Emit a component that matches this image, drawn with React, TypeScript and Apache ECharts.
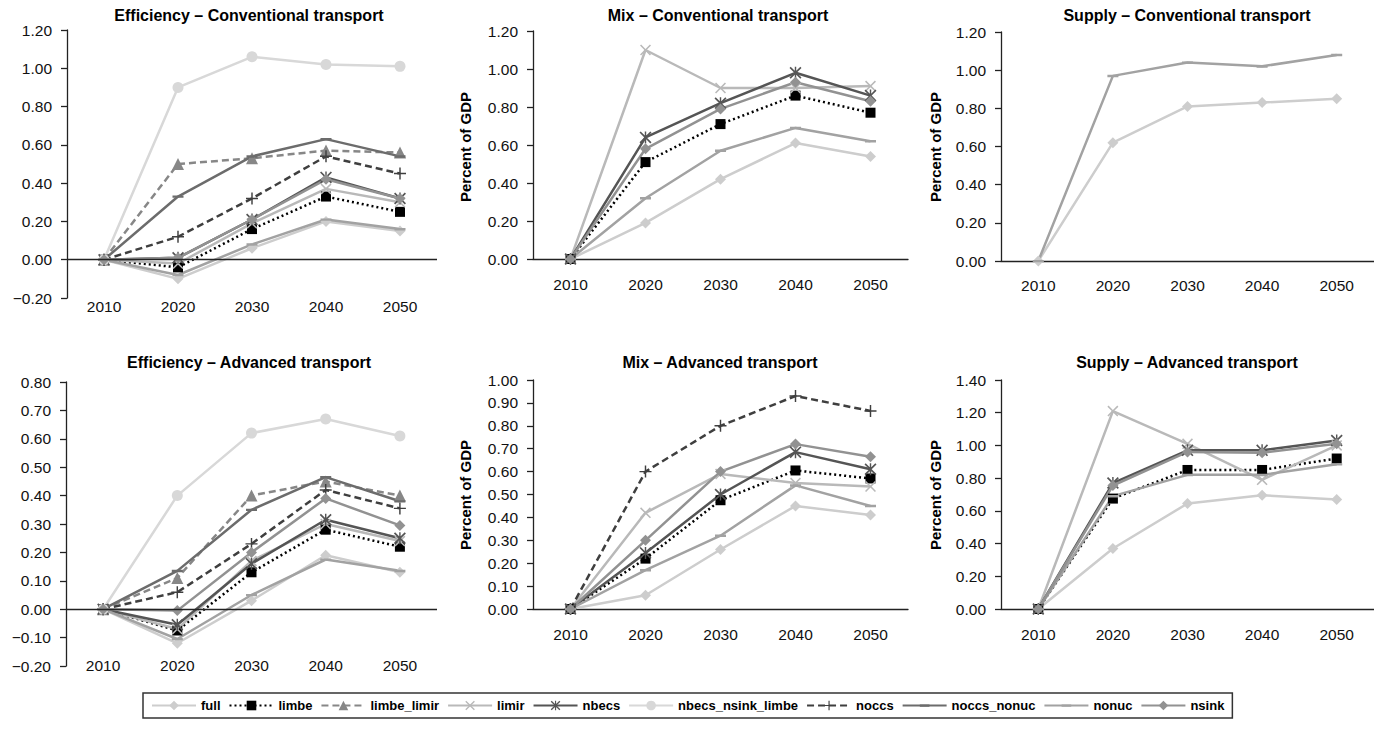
import React, { useEffect, useRef } from 'react';
import * as echarts from 'echarts';

const years = ['2010', '2020', '2030', '2040', '2050'];
const scenarios = ['full', 'limbe', 'limbe_limir', 'limir', 'nbecs', 'nbecs_nsink_limbe', 'noccs', 'noccs_nonuc', 'nonuc', 'nsink'];

const effConv: Record<string, number[]> = {
  full: [0, -0.1, 0.06, 0.2, 0.15],
  limbe: [0, -0.04, 0.16, 0.33, 0.25],
  limbe_limir: [0, 0.5, 0.53, 0.57, 0.56],
  limir: [0, -0.02, 0.19, 0.37, 0.3],
  nbecs: [0, 0.01, 0.21, 0.43, 0.32],
  nbecs_nsink_limbe: [0, 0.9, 1.06, 1.02, 1.01],
  noccs: [0, 0.12, 0.32, 0.54, 0.45],
  noccs_nonuc: [0, 0.33, 0.54, 0.63, 0.54],
  nonuc: [0, -0.08, 0.08, 0.21, 0.16],
  nsink: [0, 0.01, 0.21, 0.42, 0.32],
};

const mixConv: Record<string, number[]> = {
  full: [0, 0.19, 0.42, 0.61, 0.54],
  limbe: [0, 0.51, 0.71, 0.86, 0.77],
  limir: [0, 1.1, 0.9, 0.9, 0.91],
  nbecs: [0, 0.64, 0.82, 0.98, 0.86],
  nonuc: [0, 0.32, 0.57, 0.69, 0.62],
  nsink: [0, 0.58, 0.79, 0.93, 0.83],
};

const supplyConv: Record<string, number[]> = {
  full: [0, 0.62, 0.81, 0.83, 0.85],
  nonuc: [0, 0.97, 1.04, 1.02, 1.08],
};

const effAdv: Record<string, number[]> = {
  full: [0, -0.12, 0.03, 0.19, 0.13],
  limbe: [0, -0.075, 0.13, 0.28, 0.22],
  limbe_limir: [0, 0.11, 0.4, 0.45, 0.4],
  limir: [0, -0.07, 0.17, 0.3, 0.24],
  nbecs: [0, -0.055, 0.16, 0.315, 0.25],
  nbecs_nsink_limbe: [0, 0.4, 0.62, 0.67, 0.61],
  noccs: [0, 0.06, 0.23, 0.42, 0.355],
  noccs_nonuc: [0, 0.135, 0.35, 0.465, 0.38],
  nonuc: [0, -0.105, 0.05, 0.175, 0.135],
  nsink: [0, -0.005, 0.2, 0.39, 0.295],
};

const mixAdv: Record<string, number[]> = {
  full: [0, 0.06, 0.26, 0.45, 0.41],
  limbe: [0, 0.22, 0.475, 0.605, 0.57],
  limir: [0, 0.42, 0.59, 0.55, 0.535],
  nbecs: [0, 0.245, 0.5, 0.685, 0.61],
  noccs: [0, 0.6, 0.8, 0.93, 0.865],
  nonuc: [0, 0.17, 0.32, 0.54, 0.45],
  nsink: [0, 0.3, 0.6, 0.72, 0.665],
};

const supplyAdv: Record<string, number[]> = {
  full: [0, 0.37, 0.645, 0.695, 0.67],
  limbe: [0, 0.675, 0.85, 0.85, 0.92],
  limir: [0, 1.21, 1.01, 0.79, 1.0],
  nbecs: [0, 0.77, 0.97, 0.97, 1.03],
  nonuc: [0, 0.69, 0.82, 0.82, 0.885],
  nsink: [0, 0.755, 0.96, 0.955, 1.01],
};

const FONT = '"Liberation Sans", Arial, Helvetica, sans-serif';

const X_PATH = 'path://M0,1 L1,0 L5,4 L9,0 L10,1 L6,5 L10,9 L9,10 L5,6 L1,10 L0,9 L4,5 Z';
const AST_PATH = 'path://M0,1 L1,0 L5,4 L9,0 L10,1 L6,5 L10,9 L9,10 L5,6 L1,10 L0,9 L4,5 Z M4.4,0 L5.6,0 L5.6,10 L4.4,10 Z';
const PLUS_PATH = 'path://M4.4,0 L5.6,0 L5.6,4.4 L10,4.4 L10,5.6 L5.6,5.6 L5.6,10 L4.4,10 L4.4,5.6 L0,5.6 L0,4.4 L4.4,4.4 Z';
// dash with invisible zero-area anchors so the bounding box stays square
const DASH_PATH = 'path://M0,0 L0,0.001 Z M0,4 L10,4 L10,6.2 L0,6.2 Z M10,10 L10,9.999 Z';

const styles: Record<string, any> = {
  full: { color: '#cdcdcd', type: 'solid', symbol: 'diamond', size: 11 },
  limbe: { color: '#000000', type: [2, 3], symbol: 'rect', size: 10 },
  limbe_limir: { color: '#878787', type: [7, 4], symbol: 'triangle', size: 12 },
  limir: { color: '#b9b9b9', type: 'solid', symbol: X_PATH, size: 11 },
  nbecs: { color: '#555555', type: 'solid', symbol: AST_PATH, size: 12 },
  nbecs_nsink_limbe: { color: '#d8d8d8', type: 'solid', symbol: 'circle', size: 11 },
  noccs: { color: '#3f3f3f', type: [7, 4], symbol: PLUS_PATH, size: 12 },
  noccs_nonuc: { color: '#6c6c6c', type: 'solid', symbol: DASH_PATH, size: 11 },
  nonuc: { color: '#a2a2a2', type: 'solid', symbol: DASH_PATH, size: 11 },
  nsink: { color: '#929292', type: 'solid', symbol: 'diamond', size: 11 },
};

const panels = [
  { title: 'Efficiency – Conventional transport', data: effConv, left: 67, top: 30, width: 370, height: 268, min: -0.2, max: 1.2, interval: 0.2, yName: false, labelMargin: 0, zeroLine: true, tx: 249, ty: 15 },
  { title: 'Mix – Conventional transport', data: mixConv, left: 533, top: 31, width: 375, height: 228, min: 0, max: 1.2, interval: 0.2, yName: true, labelMargin: 17, zeroLine: false, tx: 718, ty: 15, nx: 465, ny: 147 },
  { title: 'Supply – Conventional transport', data: supplyConv, left: 1001, top: 32, width: 377, height: 229, min: 0, max: 1.2, interval: 0.2, yName: true, labelMargin: 16, zeroLine: false, tx: 1187, ty: 15, nx: 935, ny: 147 },
  { title: 'Efficiency – Advanced transport', data: effAdv, left: 66, top: 382, width: 371, height: 284, min: -0.2, max: 0.8, interval: 0.1, yName: false, labelMargin: -9, zeroLine: true, tx: 249, ty: 362 },
  { title: 'Mix – Advanced transport', data: mixAdv, left: 533, top: 380, width: 375, height: 229, min: 0, max: 1.0, interval: 0.1, yName: true, labelMargin: 17, zeroLine: false, tx: 720, ty: 362, nx: 465, ny: 495 },
  { title: 'Supply – Advanced transport', data: supplyAdv, left: 1001, top: 380, width: 377, height: 229, min: 0, max: 1.4, interval: 0.2, yName: true, labelMargin: 17, zeroLine: false, tx: 1187, ty: 362, nx: 935, ny: 495 },
];

function fmt(v: number) {
  const s = Math.abs(v).toFixed(2);
  return v < -1e-9 ? '\u2212' + s : s;
}

export default function App() {
  const ref = useRef<HTMLDivElement>(null);
  useEffect(() => {
    if (!ref.current) return;
    const chart = echarts.init(ref.current, undefined, { renderer: 'svg' });
    const grid: any[] = [];
    const xAxis: any[] = [];
    const yAxis: any[] = [];
    const series: any[] = [];
    const graphic: any[] = [];

    panels.forEach((p, i) => {
      grid.push({ left: p.left, top: p.top, width: p.width, height: p.height, containLabel: false });
      xAxis.push({
        type: 'category',
        gridIndex: i,
        data: years,
        boundaryGap: true,
        axisLine: { show: !p.zeroLine, onZero: false, lineStyle: { color: '#222', width: 1.3 } },
        axisTick: { show: false },
        axisLabel: { show: true, margin: p.labelMargin, color: '#111', fontSize: 15.5, fontFamily: FONT },
        splitLine: { show: false },
      });
      yAxis.push({
        type: 'value',
        gridIndex: i,
        min: p.min,
        max: p.max,
        interval: p.interval,
        axisLine: { show: true, onZero: false, lineStyle: { color: '#222', width: 1.3 } },
        axisTick: { show: true, inside: false, length: 6, lineStyle: { color: '#222', width: 1.3 } },
        axisLabel: { margin: 15, color: '#111', fontSize: 15.5, fontFamily: FONT, formatter: (v: number) => fmt(v) },
        splitLine: { show: false },
      });
      let first = true;
      scenarios.forEach((name) => {
        const vals = (p.data as any)[name];
        if (!vals) return;
        const st = styles[name];
        const s: any = {
          type: 'line',
          name,
          xAxisIndex: i,
          yAxisIndex: i,
          data: vals,
          symbol: st.symbol,
          symbolSize: st.size,
          showSymbol: true,
          lineStyle: { color: st.color, width: 2.5, type: st.type },
          itemStyle: { color: st.color, borderWidth: 0 },
          emphasis: { disabled: true },
          silent: true,
          z: 3,
        };
        if (p.zeroLine && first) {
          s.markLine = {
            silent: true,
            symbol: ['none', 'none'],
            label: { show: false },
            lineStyle: { color: '#222', width: 1.3, type: 'solid' },
            emphasis: { disabled: true },
            data: [{ yAxis: 0 }],
          };
        }
        first = false;
        series.push(s);
      });
      graphic.push({
        type: 'text',
        x: p.tx,
        y: p.ty,
        silent: true,
        style: { text: p.title, font: `bold 16px ${FONT}`, fill: '#000', align: 'center', verticalAlign: 'middle', textAlign: 'center', textVerticalAlign: 'middle' },
      });
      if (p.yName) {
        graphic.push({
          type: 'text',
          x: (p as any).nx,
          y: (p as any).ny,
          rotation: Math.PI / 2,
          silent: true,
          style: { text: 'Percent of GDP', font: `bold 15px ${FONT}`, fill: '#000', align: 'center', verticalAlign: 'middle', textAlign: 'center', textVerticalAlign: 'middle' },
        });
      }
    });

    chart.setOption({
      animation: false,
      backgroundColor: '#ffffff',
      grid,
      xAxis,
      yAxis,
      series,
      graphic,
      legend: {
        data: scenarios,
        left: 143,
        top: 693,
        padding: [6, 8],
        itemGap: 8,
        itemWidth: 44,
        itemHeight: 12,
        borderColor: '#333',
        borderWidth: 1.5,
        selectedMode: false,
        textStyle: { fontSize: 13, fontWeight: 'bold', color: '#000', fontFamily: FONT },
      },
    });
    return () => chart.dispose();
  }, []);
  return <div ref={ref} style={{ position: 'absolute', left: 0, top: 0, width: 1374, height: 729 }} />;
}
